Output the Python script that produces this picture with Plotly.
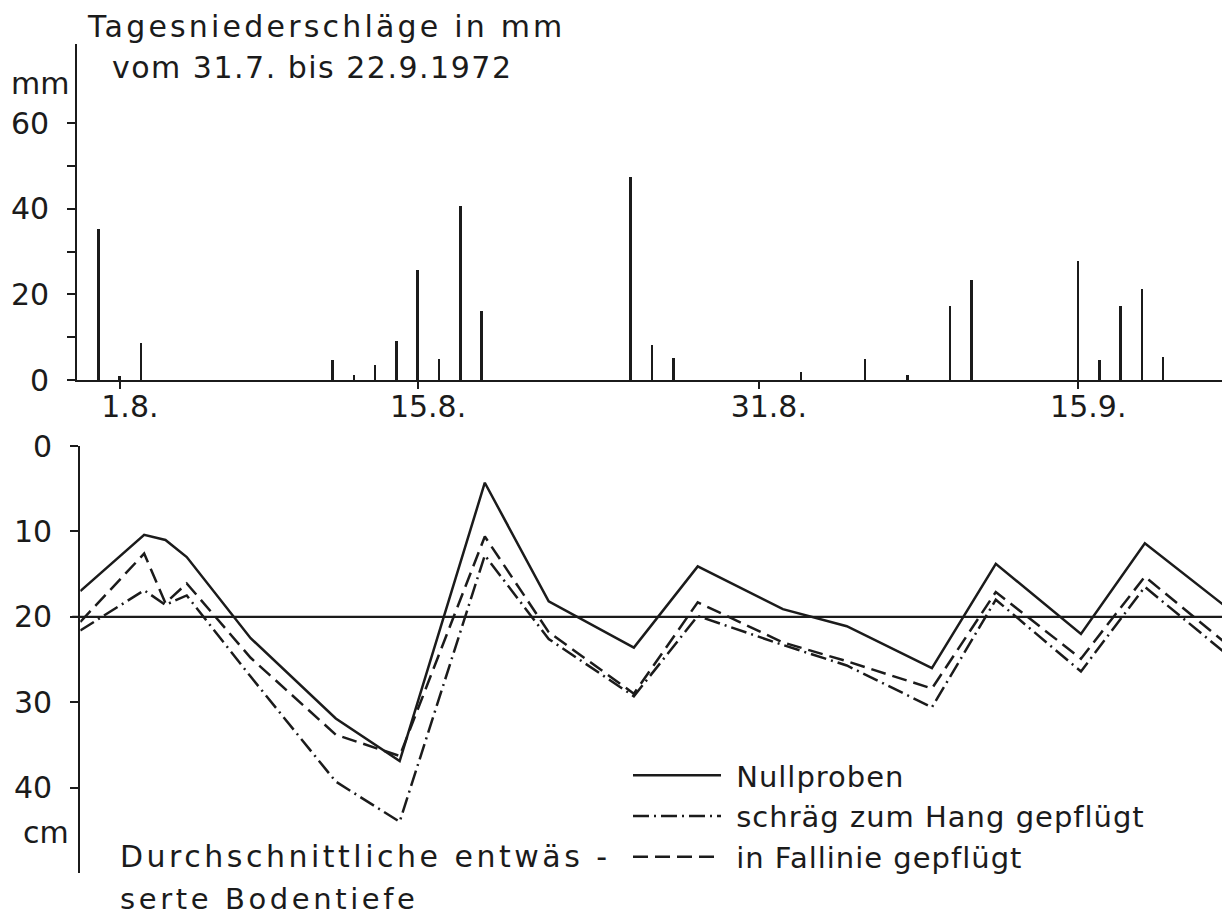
import plotly.graph_objects as go

# ---------------- data ----------------
rain_dates = ["1972-07-31", "1972-08-01", "1972-08-02", "1972-08-11", "1972-08-12", "1972-08-13",
              "1972-08-14", "1972-08-15", "1972-08-16", "1972-08-17", "1972-08-18", "1972-08-25",
              "1972-08-26", "1972-08-27", "1972-09-02", "1972-09-05", "1972-09-07", "1972-09-09",
              "1972-09-10", "1972-09-15", "1972-09-16", "1972-09-17", "1972-09-18", "1972-09-19"]
rain_mm = [35.3, 0.9, 8.6, 4.6, 1.1, 3.6, 9.1, 25.6, 4.8, 40.6, 16.1, 47.5,
           8.1, 5.2, 1.9, 5.0, 1.2, 17.4, 23.3, 27.7, 4.7, 17.3, 21.2, 5.3]

depth_dates = ["1972-07-30", "1972-08-02", "1972-08-03", "1972-08-04", "1972-08-07", "1972-08-11",
               "1972-08-14", "1972-08-18", "1972-08-21", "1972-08-25", "1972-08-28", "1972-09-01",
               "1972-09-04", "1972-09-08", "1972-09-11", "1972-09-15", "1972-09-18", "1972-09-22"]
depth_null = [17.0, 10.4, 11.0, 13.0, 22.5, 31.9, 36.9, 4.3, 18.2, 23.6, 14.1, 19.1,
              21.1, 26.0, 13.8, 22.0, 11.4, 19.2]
depth_schraeg = [21.6, 16.9, 18.6, 17.5, 27.0, 39.3, 44.0, 12.8, 22.6, 29.3, 19.9, 23.3,
                 25.7, 30.6, 18.0, 26.4, 16.5, 24.7]
depth_fall = [20.6, 12.6, 18.4, 16.1, 24.8, 33.8, 36.3, 10.6, 21.8, 29.0, 18.3, 23.0,
              25.2, 28.4, 17.1, 24.9, 15.3, 23.5]

tick_dates = ["1972-08-01", "1972-08-15", "1972-08-31", "1972-09-15"]
tick_labels = ["1.8.", "15.8.", "31.8.", "15.9."]
rain_ticks = [0, 10, 20, 30, 40, 50, 60]
rain_ticktext = ["0", "", "20", "", "40", "", "60"]
depth_ticks = [0, 10, 20, 30, 40]
depth_ref = 20

FONT = "DejaVu Sans"
INK = "#1b1b1b"

# page body has an 8px margin: figure is sized so it fills the window exactly
OFF = 8
W, H = 1230 - OFF, 920 - OFF


def px(X):
    return (X - OFF) / W


def py(Y):
    return 1 - (Y - OFF) / H


def spaced(t, sp):
    return '<span style="letter-spacing:%spx">%s</span>' % (sp, t)


fig = go.Figure()

fig.add_trace(go.Bar(
    x=rain_dates, y=rain_mm, xaxis="x", yaxis="y",
    width=1.05e7, marker=dict(color=INK, line=dict(width=0)),
    showlegend=False,
))

LW = 2.5
fig.add_trace(go.Scatter(
    x=depth_dates, y=depth_null, xaxis="x2", yaxis="y2", mode="lines",
    name=spaced("&nbsp;Nullproben", 1), line=dict(color=INK, width=LW),
))
fig.add_trace(go.Scatter(
    x=depth_dates, y=depth_schraeg, xaxis="x2", yaxis="y2", mode="lines",
    name=spaced("&nbsp;schräg zum Hang gepflügt", 1),
    line=dict(color=INK, width=LW, dash="16px,5px,2px,5px"),
))
fig.add_trace(go.Scatter(
    x=depth_dates, y=depth_fall, xaxis="x2", yaxis="y2", mode="lines",
    name=spaced("&nbsp;in Fallinie gepflügt", 1),
    line=dict(color=INK, width=LW, dash="15px,7px"),
))

fig.update_layout(
    width=W, height=H,
    margin=dict(l=0, r=0, t=0, b=0),
    paper_bgcolor="white", plot_bgcolor="white",
    font=dict(family=FONT, color=INK, size=30),
    bargap=0,
    xaxis=dict(
        type="date", domain=[px(77.3), 1.0], anchor="y",
        range=["1972-07-30", "1972-09-22 03:00"],
        showgrid=False, zeroline=False,
        showline=True, linecolor=INK, linewidth=2.2,
        tickmode="array", tickvals=tick_dates, ticktext=tick_labels,
        ticks="outside", ticklen=7, tickwidth=2, tickcolor=INK,
        tickfont=dict(size=30, family=FONT, color=INK),
        ticklabelstandoff=-8, ticklabelshift=10, automargin=False,
    ),
    yaxis=dict(
        domain=[py(380), py(44)], anchor="x",
        range=[0, 78.5],
        showgrid=False, zeroline=False,
        showline=True, linecolor=INK, linewidth=2.2,
        tickmode="array", tickvals=rain_ticks, ticktext=rain_ticktext,
        ticks="outside", ticklen=8, tickwidth=2, tickcolor=INK,
        tickfont=dict(size=30, family=FONT, color=INK),
        ticklabelstandoff=12, automargin=False,
    ),
    xaxis2=dict(
        type="date", domain=[px(80.3), 1.0], anchor="y2",
        range=["1972-07-30", "1972-09-22"],
        visible=False, showgrid=False, zeroline=False,
    ),
    yaxis2=dict(
        domain=[py(873), py(446)], anchor="x2",
        range=[50, 0],
        showgrid=False, zeroline=False,
        showline=True, linecolor=INK, linewidth=2.2,
        tickmode="array", tickvals=depth_ticks,
        ticks="outside", ticklen=8, tickwidth=2, tickcolor=INK,
        tickfont=dict(size=30, family=FONT, color=INK),
        ticklabelstandoff=12, automargin=False,
    ),
    legend=dict(
        x=px(628), y=py(750), xanchor="left", yanchor="top",
        bgcolor="rgba(0,0,0,0)", borderwidth=0,
        font=dict(size=29, family=FONT, color=INK),
        itemwidth=88, tracegroupgap=0,
    ),
    showlegend=True,
)

# reference line at 20 cm
fig.add_shape(type="line", xref="x2 domain", yref="y2",
              x0=-0.007, x1=1.0, y0=depth_ref, y1=depth_ref,
              line=dict(color=INK, width=2.2))

ann = [
    (spaced("Tagesniederschläge in mm", 3.2), 85, 26, "left", 30),
    (spaced("vom 31.7. bis 22.9.1972", 1.5), 110, 67, "left", 30),
    ("mm", 71, 83, "right", 30),
    ("cm", 71, 832, "right", 30),
    (spaced("Durchschnittliche entwäs -", 3.5), 118, 856, "left", 30),
    (spaced("serte Bodentiefe", 3.6), 118, 899, "left", 29),
]
for text, X, Y, xa, fs in ann:
    fig.add_annotation(text=text, x=px(X), y=py(Y), xref="paper", yref="paper",
                       xanchor=xa, yanchor="middle", showarrow=False,
                       font=dict(size=fs, family=FONT, color=INK))

fig.write_html("out.html")
